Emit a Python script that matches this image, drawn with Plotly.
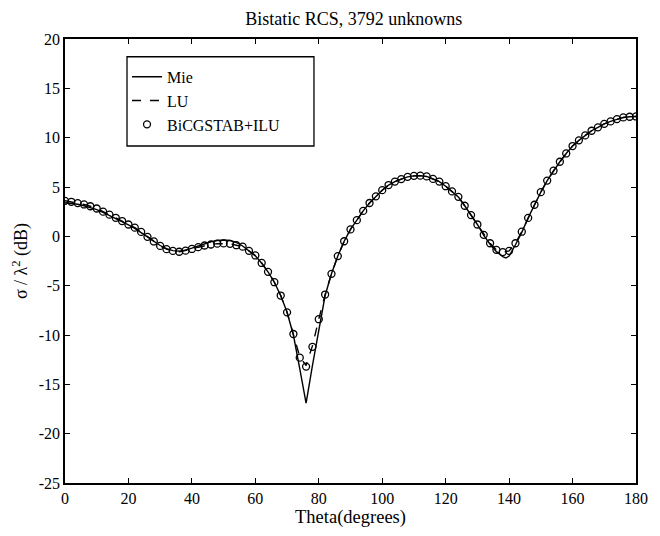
import plotly.graph_objects as go

# BiCGSTAB+ILU samples (every 2 degrees)
theta_pts = list(range(0, 181, 2))
bicg_db = [3.6, 3.5, 3.37, 3.23, 3.05, 2.82, 2.5, 2.2, 1.88, 1.55,
           1.2, 0.88, 0.45, -0.05, -0.52, -0.97, -1.3, -1.48, -1.56, -1.45,
           -1.28, -1.1, -0.93, -0.83, -0.74, -0.72, -0.76, -0.9, -1.05, -1.47,
           -1.94, -2.7, -3.6, -4.65, -6.0, -7.7, -9.9, -12.3, -13.2, -11.2,
           -8.4, -5.9, -3.8, -2.0, -0.5, 0.7, 1.64, 2.58, 3.38, 4.05,
           4.68, 5.2, 5.55, 5.8, 6.03, 6.13, 6.15, 6.07, 5.82, 5.55,
           5.08, 4.55, 4.0, 3.1, 2.15, 1.2, 0.15, -0.7, -1.37, -1.6,
           -1.47, -0.7, 0.47, 1.87, 3.2, 4.48, 5.65, 6.65, 7.56, 8.4,
           9.15, 9.73, 10.23, 10.7, 11.05, 11.4, 11.65, 11.88, 12.05, 12.12,
           12.15]

# LU solution (dashed), nearly identical to the iterative one
lu_db = [3.6, 3.5, 3.37, 3.23, 3.05, 2.82, 2.5, 2.2, 1.88, 1.55,
         1.2, 0.88, 0.45, -0.05, -0.52, -0.97, -1.3, -1.48, -1.56, -1.45,
         -1.28, -1.1, -0.93, -0.83, -0.74, -0.72, -0.76, -0.9, -1.05, -1.47,
         -1.94, -2.7, -3.6, -4.65, -6.0, -7.7, -9.9, -12.2, -13.1, -11.1,
         -8.4, -5.9, -3.8, -2.0, -0.5, 0.7, 1.64, 2.58, 3.38, 4.05,
         4.68, 5.2, 5.55, 5.8, 6.03, 6.13, 6.15, 6.07, 5.82, 5.55,
         5.08, 4.55, 4.0, 3.1, 2.15, 1.2, 0.15, -0.7, -1.37, -1.6,
         -1.47, -0.7, 0.47, 1.87, 3.2, 4.48, 5.65, 6.65, 7.56, 8.4,
         9.15, 9.73, 10.23, 10.7, 11.05, 11.4, 11.65, 11.88, 12.05, 12.12,
         12.15]

# Mie series (exact solution)
mie_theta = [0, 2, 4, 6, 8, 10, 12, 14, 16, 18, 20, 22, 24, 26, 28, 30, 32, 34, 36, 38,
             40, 42, 44, 46, 48, 50, 52, 54, 56, 58, 60, 62, 64, 66, 68, 70, 72, 74, 76, 78,
             80, 82, 84, 86, 88, 90, 92, 94, 96, 98, 100, 102, 104, 106, 108, 110, 112, 114,
             116, 118, 120, 122, 124, 126, 128, 130, 132, 134, 136, 138, 139, 140, 142, 144,
             146, 148, 150, 152, 154, 156, 158, 160, 162, 164, 166, 168, 170, 172, 174, 176,
             178, 180]
mie_db = [3.4, 3.35, 3.25, 3.1, 2.92, 2.7, 2.42, 2.12, 1.8, 1.48, 1.15, 0.8, 0.4, -0.05,
          -0.5, -0.93, -1.25, -1.45, -1.5, -1.4, -1.2, -0.98, -0.75, -0.55, -0.42, -0.37,
          -0.42, -0.62, -0.98, -1.45, -1.98, -2.72, -3.6, -4.65, -6.0, -7.7, -10.0, -13.4,
          -16.9, -13.1, -9.5, -6.0, -3.8, -2.0, -0.5, 0.7, 1.64, 2.58, 3.38, 4.05, 4.68,
          5.2, 5.55, 5.8, 6.03, 6.13, 6.15, 6.07, 5.82, 5.55, 5.08, 4.55, 4.0, 3.1, 2.15,
          1.2, 0.1, -0.8, -1.55, -2.05, -2.2, -2.0, -0.85, 0.4, 1.87, 3.2, 4.48, 5.65, 6.65,
          7.56, 8.4, 9.15, 9.73, 10.23, 10.7, 11.05, 11.4, 11.65, 11.88, 12.05, 12.12, 12.15]

x_ticks = [0, 20, 40, 60, 80, 100, 120, 140, 160, 180]
y_ticks = [-25, -20, -15, -10, -5, 0, 5, 10, 15, 20]

FONT = "Liberation Serif"

fig = go.Figure()
fig.add_trace(go.Scatter(x=mie_theta, y=mie_db, mode="lines", name="Mie",
                         line=dict(color="black", width=1.4)))
fig.add_trace(go.Scatter(x=theta_pts, y=lu_db, mode="lines", name="LU",
                         line=dict(color="black", width=1.4, dash="dash")))
fig.add_trace(go.Scatter(x=theta_pts, y=bicg_db, mode="markers", name="BiCGSTAB+ILU",
                         marker=dict(symbol="circle-open", size=7, color="black",
                                     line=dict(width=1.3, color="black"))))

axis_common = dict(showline=True, linecolor="black", linewidth=1.5, mirror="ticks",
                   ticks="inside", ticklen=5, tickwidth=1.2, tickcolor="black",
                   showgrid=False, zeroline=False,
                   tickfont=dict(family=FONT, size=16, color="black"))

# legend frame (paper coords)
fig.add_shape(type="rect", xref="paper", yref="paper",
              x0=0.1086, x1=0.436, y0=0.759, y1=0.960,
              line=dict(color="black", width=1.3), fillcolor="white", layer="below")

fig.update_layout(
    width=660, height=536,
    margin=dict(l=65, r=15, t=39, b=48),
    paper_bgcolor="white", plot_bgcolor="white",
    title=dict(text="Bistatic RCS, 3792 unknowns", x=0.536, xanchor="center",
               y=0.966, yanchor="middle",
               font=dict(family=FONT, size=18, color="black")),
    xaxis=dict(range=[0, 180], tickvals=x_ticks, ticktext=[str(v) for v in x_ticks],
               title=dict(text="Theta(degrees)", standoff=4,
                          font=dict(family=FONT, size=18.5, color="black")),
               **axis_common),
    yaxis=dict(range=[-25, 20], tickvals=y_ticks, ticktext=[str(v) for v in y_ticks],
               title=dict(text="σ / λ<sup>2</sup> (dB)", standoff=6,
                          font=dict(family=FONT, size=18, color="black")),
               **axis_common),
    legend=dict(x=0.1086, y=0.953, xanchor="left", yanchor="top",
                bgcolor="rgba(0,0,0,0)", borderwidth=0,
                font=dict(family=FONT, size=16, color="black"),
                itemwidth=30, tracegroupgap=0),
    showlegend=True,
)

fig.write_html("out.html", config={"displayModeBar": False},
               post_script="document.body.style.margin='0';document.body.style.overflow='hidden';")
